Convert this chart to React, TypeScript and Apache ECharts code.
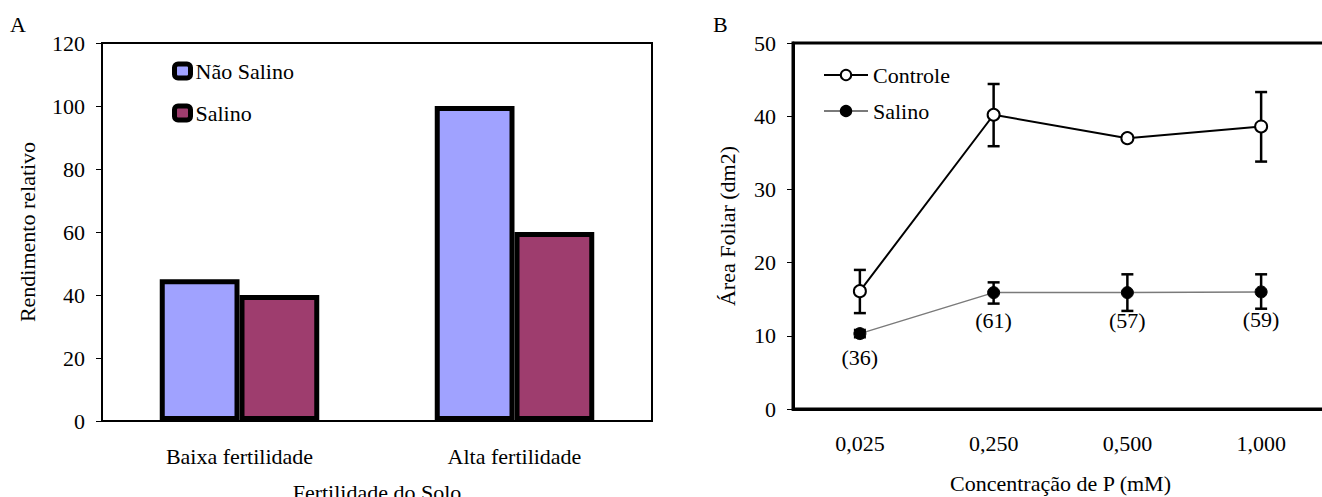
import React, { useEffect, useRef } from "react";
import * as echarts from "echarts";

// Panel A data
const categoriesA = ["Baixa fertilidade", "Alta fertilidade"];
const naoSalinoA = [45, 100];
const salinoA = [40, 60];

// Panel B data
const concentracoes = ["0,025", "0,250", "0,500", "1,000"];
const controle = [16.1, 40.2, 37.0, 38.6];
const controleLow = [13.1, 35.9, 37.0, 33.8];
const controleHigh = [19.0, 44.4, 37.0, 43.3];
const salinoB = [10.3, 15.9, 15.9, 16.0];
const salinoLow = [9.8, 14.4, 13.4, 13.7];
const salinoHigh = [10.8, 17.3, 18.4, 18.4];
const nLabels = ["(36)", "(61)", "(57)", "(59)"];

const FONT = "'Liberation Serif', 'Times New Roman', 'DejaVu Serif', serif";
const FS = 22;

export default function App() {
  const ref = useRef<HTMLDivElement>(null);
  useEffect(() => {
    if (!ref.current) return;
    const chart = echarts.init(ref.current, undefined, { renderer: "svg" });
    const txt = { fontFamily: FONT, fontSize: FS, color: "#000" };

    const errRender = (params: any, api: any) => {
      const x = api.value(0);
      const lo = api.coord([x, api.value(1)]);
      const hi = api.coord([x, api.value(2)]);
      const w = 6;
      const st = { stroke: "#000", lineWidth: 2.5 };
      return {
        type: "group",
        children: [
          { type: "line", shape: { x1: hi[0], y1: hi[1], x2: lo[0], y2: lo[1] }, style: st },
          { type: "line", shape: { x1: hi[0] - w, y1: hi[1], x2: hi[0] + w, y2: hi[1] }, style: st },
          { type: "line", shape: { x1: lo[0] - w, y1: lo[1], x2: lo[0] + w, y2: lo[1] }, style: st },
        ],
      };
    };

    chart.setOption({
      animation: false,
      backgroundColor: "#fff",
      textStyle: { fontFamily: FONT },
      title: [
        { text: "A", left: 10, top: 13, padding: 0, textStyle: { ...txt, fontWeight: "normal" } },
        { text: "B", left: 713, top: 13, padding: 0, textStyle: { ...txt, fontWeight: "normal" } },
      ],
      grid: [
        {
          left: 102, right: 670, top: 43, bottom: 76,
          outerBoundsMode: "none", containLabel: false,
          show: true, borderColor: "#000", borderWidth: 2, backgroundColor: "transparent",
        },
        {
          left: 793, right: -6, top: 43, bottom: 88,
          outerBoundsMode: "none", containLabel: false,
          show: true, borderColor: "#000", borderWidth: 3, backgroundColor: "transparent",
        },
      ],
      legend: [
        {
          data: ["Não Salino", "Salino"],
          orient: "vertical",
          left: 167,
          top: 55,
          itemWidth: 16,
          itemHeight: 14,
          itemGap: 20,
          textStyle: txt,
          icon: "roundRect",
          itemStyle: { borderColor: "#000", borderWidth: 5 },
        },
        {
          data: ["Controle", "Salino "],
          orient: "vertical",
          left: 818,
          top: 59,
          itemWidth: 44,
          itemHeight: 13,
          itemGap: 14,
          textStyle: txt,
          formatter: (n: string) => n.trim(),
        },
      ],
      xAxis: [
        {
          type: "category",
          gridIndex: 0,
          data: categoriesA,
          name: "Fertilidade do Solo",
          nameLocation: "middle",
          nameGap: 60,
          nameTextStyle: txt,
          axisLine: { lineStyle: { color: "#000", width: 1.5 } },
          axisTick: { length: 7, lineStyle: { color: "#000", width: 1 } },
          axisLabel: { ...txt, margin: 24 },
        },
        {
          type: "category",
          gridIndex: 1,
          data: concentracoes,
          name: "Concentração de P (mM)",
          nameLocation: "middle",
          nameGap: 63,
          nameTextStyle: txt,
          axisLine: { lineStyle: { color: "#000", width: 3 } },
          axisTick: { length: 7, lineStyle: { color: "#000", width: 1 } },
          axisLabel: { ...txt, margin: 23 },
        },
      ],
      yAxis: [
        {
          type: "value",
          gridIndex: 0,
          min: 0,
          max: 120,
          interval: 20,
          name: "Rendimento relativo",
          nameLocation: "middle",
          nameGap: 64,
          nameTextStyle: txt,
          splitLine: { show: false },
          axisLine: { show: true, lineStyle: { color: "#000", width: 2 } },
          axisTick: { show: true, length: 6, lineStyle: { color: "#000", width: 1 } },
          axisLabel: { ...txt, margin: 17 },
        },
        {
          type: "value",
          gridIndex: 1,
          min: 0,
          max: 50,
          interval: 10,
          name: "Área Foliar (dm2)",
          nameLocation: "middle",
          nameGap: 55,
          nameTextStyle: txt,
          splitLine: { show: false },
          axisLine: { show: true, lineStyle: { color: "#000", width: 3 } },
          axisTick: { show: true, length: 6, lineStyle: { color: "#000", width: 1 } },
          axisLabel: { ...txt, margin: 17 },
        },
      ],
      series: [
        {
          name: "Não Salino",
          type: "bar",
          xAxisIndex: 0,
          yAxisIndex: 0,
          data: naoSalinoA,
          barWidth: "29%",
          barGap: "0%",
          itemStyle: { color: "#A0A2FF", borderColor: "#000", borderWidth: 5 },
        },
        {
          name: "Salino",
          type: "bar",
          xAxisIndex: 0,
          yAxisIndex: 0,
          data: salinoA,
          barWidth: "29%",
          barGap: "0%",
          itemStyle: { color: "#9E3D6E", borderColor: "#000", borderWidth: 5 },
        },
        {
          name: "errControle",
          type: "custom",
          xAxisIndex: 1,
          yAxisIndex: 1,
          renderItem: errRender,
          data: controle.map((_, i) => [i, controleLow[i], controleHigh[i]]),
          z: 1,
          silent: true,
        },
        {
          name: "errSalino",
          type: "custom",
          xAxisIndex: 1,
          yAxisIndex: 1,
          renderItem: errRender,
          data: salinoB.map((_, i) => [i, salinoLow[i], salinoHigh[i]]),
          z: 1,
          silent: true,
        },
        {
          name: "Controle",
          type: "line",
          xAxisIndex: 1,
          yAxisIndex: 1,
          data: controle,
          symbol: "circle",
          symbolSize: 12,
          lineStyle: { color: "#000", width: 2 },
          itemStyle: { color: "#fff", borderColor: "#000", borderWidth: 2 },
          z: 3,
        },
        {
          name: "Salino ",
          type: "line",
          xAxisIndex: 1,
          yAxisIndex: 1,
          data: salinoB.map((v, i) => ({
            value: v,
            label: {
              show: true,
              position: "bottom",
              distance: i === 0 ? 6 : 10,
              formatter: nLabels[i],
              ...txt,
            },
          })),
          symbol: "circle",
          symbolSize: 12,
          lineStyle: { color: "#7a7a7a", width: 1.5 },
          itemStyle: { color: "#000", borderColor: "#000", borderWidth: 1 },
          z: 3,
        },
      ],
    });
    return () => chart.dispose();
  }, []);
  return (
    <div
      ref={ref}
      style={{ position: "fixed", left: 0, top: 0, width: 1322, height: 497, background: "#fff" }}
    />
  );
}
